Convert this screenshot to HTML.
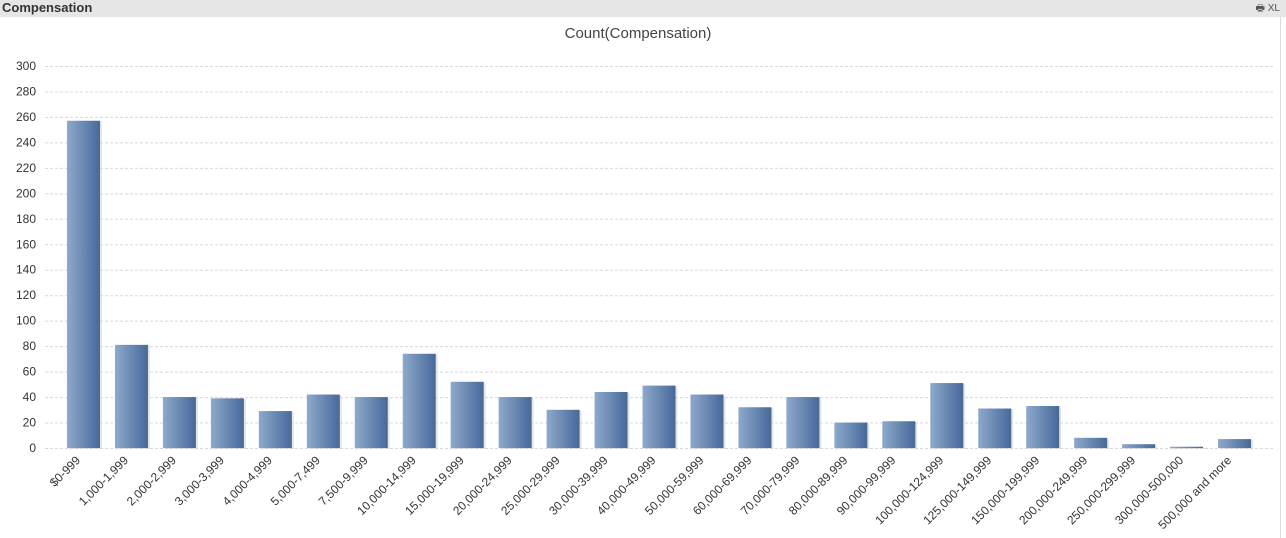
<!DOCTYPE html>
<html><head><meta charset="utf-8"><style>
body{margin:0;width:1286px;height:538px;background:#fff;overflow:hidden;font-family:"Liberation Sans",sans-serif}
#hdr{position:absolute;left:0;top:0;width:1286px;height:17px;background:#e6e6e6}
#hdr .t{position:absolute;left:2px;top:0;font-size:13px;font-weight:bold;color:#333;line-height:16px}
#hdr .x{position:absolute;right:6px;top:1px;font-size:10px;color:#555}
</style></head><body>
<div id="hdr"><span class="t">Compensation</span><span class="x">🖶 XL</span></div>
<svg id="c" width="1286" height="538" style="position:absolute;left:0;top:0">
<defs><linearGradient id="g" x1="0" x2="1"><stop offset="0" stop-color="#8ea9cb"/><stop offset="1" stop-color="#46699a"/></linearGradient></defs>
<line x1="1280.5" y1="17" x2="1280.5" y2="538" stroke="#ddd"/>
<text x="638" y="38" text-anchor="middle" font-size="15" fill="#444">Count(Compensation)</text>
</svg>
<script>
const categories=["$0-999","1,000-1,999","2,000-2,999","3,000-3,999","4,000-4,999","5,000-7,499","7,500-9,999","10,000-14,999","15,000-19,999","20,000-24,999","25,000-29,999","30,000-39,999","40,000-49,999","50,000-59,999","60,000-69,999","70,000-79,999","80,000-89,999","90,000-99,999","100,000-124,999","125,000-149,999","150,000-199,999","200,000-249,999","250,000-299,999","300,000-500,000","500,000 and more"];
const counts=[257,81,40,39,29,42,40,74,52,40,30,44,49,42,32,40,20,21,51,31,33,8,3,1,7];
const yTicks=[0,20,40,60,80,100,120,140,160,180,200,220,240,260,280,300];
const svg=document.getElementById('c'),NS='http://www.w3.org/2000/svg';
const y=v=>448-v*(382/300);
const x=i=>83+i*47.96;
function mk(t,a){const e=document.createElementNS(NS,t);for(const k in a)e.setAttribute(k,a[k]);svg.appendChild(e);return e;}
yTicks.forEach(v=>{
 const l=mk('line',{x1:45,x2:1275,y1:y(v)+0.5,y2:y(v)+0.5,stroke:'#d8d8d8','stroke-dasharray':'3,2'});
 
 
 const t=mk('text',{x:36,y:y(v)+4,'text-anchor':'end','font-size':12,fill:'#333'});
 t.textContent=v;
 
 
});
counts.forEach((v,i)=>{
 const s=mk('rect',{x:x(i)-16+2,y:y(v)+1,width:33,height:448-y(v),fill:'#ccc',opacity:0.5});
 
 
 const b=mk('rect',{x:x(i)-16,y:y(v),width:33,height:448-y(v),fill:'url(#g)'});
 
 
 const t=mk('text',{x:x(i)-2,y:461,'text-anchor':'end','font-size':12,fill:'#333',transform:`rotate(-45 ${x(i)-2} 461)`});
 t.textContent=categories[i];
 
 
});
</script>
</body></html>
